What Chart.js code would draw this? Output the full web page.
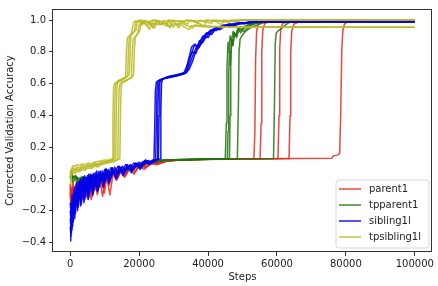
<!DOCTYPE html>
<html>
<head>
<meta charset="utf-8">
<script src="https://cdn.jsdelivr.net/npm/chart.js@4"></script>
<style>
	body { margin: 0; background: #fff; }
	canvas { display: block; }
</style>
</head>
<body>
<canvas id="canvas" width="438" height="286"></canvas>
<script>
var seriesNames = ['parent1', 'tpparent1', 'sibling1l', 'tpsibling1l'];
var seriesColors = ['rgba(228,40,30,0.85)', 'rgba(30,115,10,0.85)', 'rgba(0,0,235,0.9)', 'rgba(185,185,30,0.85)'];

var xTicks = [0, 20000, 40000, 60000, 80000, 100000];
var xTickLabels = ['0', '20000', '40000', '60000', '80000', '100000'];
var yTicks = [-0.4, -0.2, 0.0, 0.2, 0.4, 0.6, 0.8, 1.0];
var yTickLabels = ['\u22120.4', '\u22120.2', '0.0', '0.2', '0.4', '0.6', '0.8', '1.0'];

// each run: [step, corrected validation accuracy]
var parent1 = [
	[[0,-0.06],[300,-0.15],[700,-0.06],[1100,-0.13],[1600,-0.04],[2100,-0.11],[2700,-0.03],[3300,-0.1],[3900,-0.02],[4600,-0.09],[5300,0.0],[6000,-0.08],[6800,0.01],[7600,-0.06],[8400,0.03],[9300,-0.05],[10200,0.04],[11200,-0.02],[12200,0.05],[13300,0.02],[14500,0.07],[15700,0.04],[17000,0.08],[18400,0.06],[19800,0.09],[21300,0.08],[23000,0.105],[25000,0.1],[27000,0.115],[30000,0.12],[35000,0.123],[42000,0.125],[50000,0.127],[53300,0.128],[53600,0.3],[53800,0.75],[54100,0.93],[54600,0.98],[56000,0.99],[70000,0.995],[100000,0.995]],
	[[0,-0.03],[400,-0.1],[800,-0.02],[1300,-0.12],[1800,-0.05],[2400,-0.14],[3000,-0.04],[3600,-0.12],[4300,-0.03],[5000,-0.1],[5700,-0.01],[6500,-0.11],[7300,0.0],[8100,-0.07],[9000,0.02],[9900,-0.09],[10800,0.03],[11800,0.0],[12800,0.06],[13900,0.01],[15100,0.06],[16300,0.03],[17600,0.08],[19000,0.05],[20500,0.09],[22000,0.075],[23800,0.1],[26000,0.105],[28500,0.115],[32000,0.12],[38000,0.124],[46000,0.126],[55100,0.128],[55400,0.35],[55600,0.8],[55900,0.94],[56500,0.98],[58000,0.99],[100000,0.993]],
	[[0,-0.08],[300,-0.18],[700,-0.09],[1200,-0.15],[1700,-0.06],[2300,-0.13],[2900,-0.05],[3500,-0.11],[4200,-0.02],[4900,-0.12],[5600,-0.03],[6300,-0.09],[7100,0.0],[7900,-0.1],[8700,0.01],[9600,-0.06],[10500,0.03],[11500,-0.1],[12500,0.04],[13600,0.0],[14800,0.06],[16000,0.02],[17300,0.07],[18700,0.04],[20100,0.085],[21700,0.07],[23400,0.1],[25500,0.095],[28000,0.112],[31000,0.118],[37000,0.122],[45000,0.125],[55000,0.127],[60300,0.128],[60600,0.4],[60800,0.82],[61100,0.94],[61700,0.98],[63500,0.99],[100000,0.994]],
	[[0,-0.04],[350,-0.13],[750,-0.05],[1250,-0.11],[1750,-0.02],[2300,-0.09],[2900,-0.01],[3500,-0.08],[4100,0.01],[4800,-0.07],[5500,0.02],[6200,-0.05],[7000,0.03],[7800,-0.04],[8600,0.04],[9500,-0.02],[10400,0.05],[11400,0.01],[12400,0.06],[13500,0.03],[14700,0.075],[15900,0.05],[17200,0.085],[18600,0.065],[20000,0.095],[21600,0.085],[23300,0.105],[25200,0.1],[27500,0.115],[31000,0.12],[38000,0.123],[48000,0.126],[58000,0.127],[63500,0.128],[63800,0.4],[64000,0.8],[64300,0.93],[64900,0.975],[66500,0.99],[100000,0.995]],
	[[0,-0.1],[300,-0.2],[650,-0.1],[1100,-0.17],[1600,-0.07],[2100,-0.15],[2700,-0.06],[3300,-0.14],[3900,-0.04],[4600,-0.1],[5300,-0.02],[6100,-0.13],[6900,-0.01],[7700,-0.08],[8500,0.0],[9400,-0.11],[10300,0.02],[11300,-0.04],[12300,0.04],[13400,-0.01],[14600,0.05],[15800,0.01],[17100,0.07],[18500,0.03],[19900,0.08],[21500,0.06],[23200,0.095],[25300,0.09],[27700,0.11],[31000,0.117],[38000,0.122],[50000,0.126],[65000,0.128],[76000,0.13],[76300,0.145],[77500,0.15],[78200,0.16],[78500,0.4],[78800,0.8],[79100,0.93],[79600,0.975],[80500,0.99],[100000,0.995]]
];

var tpparent1 = [
	[[0,0.02],[300,0.04],[800,0.0],[1500,0.01],[2500,-0.01],[3500,0.005],[5000,0.0],[6500,0.015],[8000,0.01],[10000,0.03],[12000,0.035],[14000,0.05],[16000,0.06],[18000,0.075],[20000,0.09],[22000,0.1],[24000,0.11],[27000,0.118],[32000,0.122],[40000,0.125],[45000,0.127],[45300,0.35],[45500,0.7],[45800,0.86],[46100,0.8],[46400,0.9],[46800,0.87],[47300,0.93],[48000,0.9],[48800,0.95],[50000,0.94],[51500,0.97],[53500,0.98],[56000,0.99],[60000,0.995],[100000,0.997]],
	[[0,0.0],[300,0.03],[800,-0.02],[1500,0.0],[2500,-0.03],[3500,-0.01],[5000,0.005],[6500,0.0],[8000,0.02],[10000,0.02],[12000,0.04],[14000,0.045],[16000,0.065],[18000,0.07],[20000,0.085],[22000,0.095],[24000,0.108],[27000,0.116],[32000,0.121],[40000,0.124],[45600,0.126],[45800,0.3],[46000,0.65],[46200,0.8],[46500,0.72],[46800,0.88],[47200,0.84],[47700,0.92],[48300,0.89],[49000,0.94],[50500,0.93],[52000,0.965],[54000,0.98],[57000,0.99],[100000,0.996]],
	[[0,0.04],[300,0.05],[800,0.01],[1500,0.02],[2500,0.0],[3500,0.01],[5000,-0.005],[6500,0.01],[8000,0.005],[10000,0.025],[12000,0.03],[14000,0.05],[16000,0.055],[18000,0.07],[20000,0.08],[22000,0.095],[24000,0.105],[27000,0.115],[32000,0.12],[40000,0.124],[46200,0.126],[46400,0.4],[46600,0.75],[46900,0.88],[47200,0.84],[47600,0.92],[48100,0.9],[48700,0.945],[49500,0.92],[50500,0.96],[52500,0.975],[55000,0.985],[58000,0.99],[100000,0.996]],
	[[0,0.01],[300,0.035],[800,0.005],[1500,0.015],[2500,-0.02],[3500,0.0],[5000,0.01],[6500,0.005],[8000,0.015],[10000,0.03],[12000,0.04],[14000,0.05],[16000,0.06],[18000,0.07],[20000,0.088],[22000,0.098],[24000,0.11],[27000,0.117],[32000,0.121],[40000,0.124],[48500,0.127],[48800,0.45],[49000,0.8],[49300,0.88],[49800,0.9],[50500,0.92],[51500,0.94],[53000,0.96],[55000,0.975],[57000,0.99],[100000,0.996]],
	[[0,0.03],[300,0.045],[800,0.01],[1500,0.02],[2500,0.0],[3500,0.015],[5000,0.005],[6500,0.02],[8000,0.015],[10000,0.035],[12000,0.04],[14000,0.055],[16000,0.06],[18000,0.072],[20000,0.09],[22000,0.1],[24000,0.112],[27000,0.119],[32000,0.123],[40000,0.125],[50000,0.127],[59000,0.128],[59300,0.5],[59500,0.85],[59800,0.92],[60500,0.935],[61500,0.95],[62500,0.97],[64000,0.99],[100000,0.997]]
];

var sibling1l = [
	[[0,-0.39],[150,-0.3],[350,-0.34],[600,-0.2],[900,-0.27],[1200,-0.12],[1500,-0.22],[1900,-0.06],[2300,-0.18],[2700,-0.04],[3200,-0.16],[3700,-0.02],[4200,-0.13],[4800,0.0],[5400,-0.12],[6000,0.02],[6700,-0.09],[7400,0.03],[8100,-0.07],[8900,0.04],[9700,-0.05],[10500,0.05],[11400,-0.02],[12400,0.06],[13400,0.0],[14500,0.07],[15600,0.03],[16800,0.08],[18000,0.05],[19300,0.09],[20600,0.07],[22000,0.11],[23400,0.1],[24300,0.12],[24500,0.3],[24700,0.55],[25000,0.61],[26000,0.625],[28000,0.635],[30000,0.645],[32000,0.655],[33000,0.66],[34000,0.7],[35000,0.78],[36000,0.84],[37500,0.83],[39000,0.9],[40500,0.93],[42000,0.95],[44000,0.96],[46000,0.975],[48000,0.97],[50000,0.985],[52000,0.98],[54000,0.99],[100000,0.99]],
	[[0,-0.3],[200,-0.36],[450,-0.22],[700,-0.3],[1000,-0.15],[1300,-0.25],[1700,-0.08],[2100,-0.2],[2500,-0.05],[3000,-0.17],[3500,-0.03],[4000,-0.15],[4600,-0.01],[5200,-0.13],[5800,0.03],[6500,-0.1],[7200,0.02],[7900,-0.08],[8700,0.05],[9500,-0.04],[10300,0.06],[11200,-0.03],[12100,0.07],[13100,0.01],[14200,0.08],[15300,0.02],[16500,0.085],[17700,0.04],[19000,0.1],[20300,0.06],[21700,0.115],[23100,0.09],[24800,0.12],[25000,0.35],[25200,0.57],[25500,0.615],[27000,0.63],[29000,0.64],[31000,0.65],[32500,0.66],[33500,0.68],[34500,0.75],[35500,0.8],[36500,0.79],[37500,0.86],[38500,0.9],[40000,0.89],[41500,0.94],[43500,0.955],[45500,0.97],[47500,0.965],[49500,0.98],[51500,0.985],[53500,0.99],[100000,0.99]],
	[[0,-0.25],[250,-0.32],[500,-0.18],[800,-0.26],[1100,-0.1],[1400,-0.21],[1800,-0.04],[2200,-0.16],[2600,-0.02],[3100,-0.14],[3600,0.0],[4100,-0.12],[4700,0.01],[5300,-0.1],[5900,0.02],[6600,-0.08],[7300,0.04],[8000,-0.06],[8800,0.03],[9600,-0.03],[10400,0.065],[11300,0.0],[12200,0.07],[13200,0.02],[14300,0.075],[15400,0.04],[16600,0.09],[17800,0.06],[19100,0.1],[20400,0.08],[21800,0.12],[23200,0.105],[25200,0.125],[25400,0.38],[25600,0.58],[25900,0.62],[27500,0.635],[29500,0.645],[31500,0.655],[33000,0.665],[34000,0.72],[35200,0.83],[36200,0.85],[37200,0.82],[38200,0.88],[39500,0.92],[41000,0.91],[42500,0.95],[44500,0.97],[46500,0.96],[48500,0.98],[50500,0.975],[52500,0.99],[100000,0.99]],
	[[0,-0.2],[250,-0.27],[550,-0.14],[850,-0.23],[1150,-0.07],[1500,-0.19],[1900,-0.03],[2300,-0.17],[2800,-0.01],[3300,-0.13],[3800,0.01],[4400,-0.11],[5000,0.02],[5600,-0.09],[6300,0.03],[7000,-0.07],[7700,0.05],[8500,-0.05],[9300,0.05],[10100,-0.02],[11000,0.06],[11900,0.01],[12900,0.075],[14000,0.03],[15100,0.08],[16200,0.05],[17400,0.09],[18600,0.07],[19900,0.105],[21200,0.09],[22600,0.115],[24000,0.105],[25600,0.125],[25800,0.4],[26000,0.6],[26300,0.625],[28000,0.64],[30000,0.65],[32000,0.66],[33500,0.665],[34500,0.69],[35500,0.74],[36500,0.81],[37500,0.87],[38500,0.86],[39500,0.91],[41000,0.94],[42500,0.935],[44000,0.96],[46000,0.975],[48000,0.97],[50000,0.98],[52000,0.99],[100000,0.99]],
	[[0,-0.15],[300,-0.24],[600,-0.1],[950,-0.2],[1300,-0.05],[1700,-0.15],[2100,-0.02],[2600,-0.12],[3100,0.0],[3600,-0.1],[4200,0.02],[4800,-0.08],[5400,0.03],[6100,-0.06],[6800,0.035],[7500,-0.04],[8300,0.045],[9100,-0.01],[10000,0.06],[10900,0.02],[11800,0.07],[12800,0.04],[13900,0.08],[15000,0.05],[16100,0.09],[17300,0.07],[18500,0.1],[19800,0.08],[21100,0.11],[22500,0.1],[24000,0.12],[26100,0.125],[26300,0.42],[26500,0.6],[26800,0.63],[28500,0.645],[30500,0.655],[32500,0.665],[33800,0.67],[34800,0.73],[35800,0.79],[36800,0.84],[38000,0.85],[39000,0.88],[40500,0.92],[42000,0.945],[43500,0.94],[45000,0.965],[47000,0.975],[49000,0.985],[51000,0.98],[53000,0.99],[100000,0.99]]
];

var tpsibling1l = [
	[[0,-0.04],[200,0.02],[500,0.04],[900,0.05],[1400,0.045],[2000,0.06],[2700,0.055],[3500,0.07],[4300,0.065],[5200,0.08],[6100,0.075],[7000,0.09],[8000,0.085],[9000,0.095],[10000,0.1],[11000,0.105],[11800,0.115],[12200,0.12],[12400,0.4],[12600,0.58],[12900,0.6],[14000,0.61],[15000,0.62],[15800,0.635],[16100,0.65],[16300,0.8],[16600,0.89],[17200,0.9],[17800,0.92],[18300,0.98],[18800,0.995],[20000,0.99],[21000,0.97],[21500,0.995],[23000,0.99],[24500,0.95],[25000,0.995],[27000,0.99],[29000,0.96],[29500,0.995],[32000,0.995],[34000,0.975],[34500,0.998],[38000,0.995],[41000,0.98],[41500,1.0],[45000,0.995],[48000,0.99],[50000,1.0],[100000,1.0]],
	[[0,0.0],[200,0.04],[500,0.06],[900,0.07],[1400,0.065],[2000,0.075],[2700,0.07],[3500,0.085],[4300,0.08],[5200,0.09],[6100,0.085],[7000,0.1],[8000,0.095],[9000,0.105],[10000,0.11],[11000,0.115],[12000,0.12],[12700,0.125],[12900,0.45],[13100,0.59],[13400,0.61],[14500,0.62],[15500,0.63],[16400,0.64],[16700,0.66],[16900,0.82],[17200,0.9],[18000,0.91],[18600,0.93],[19000,0.985],[19600,0.998],[21000,0.99],[22500,0.96],[23000,0.995],[25000,0.998],[26500,0.97],[27000,0.998],[30000,0.99],[31500,0.95],[32000,0.995],[35000,0.998],[37000,0.98],[37500,0.998],[42000,0.995],[44000,0.97],[44500,1.0],[47000,0.995],[50000,1.0],[100000,1.0]],
	[[0,0.03],[200,0.05],[500,0.07],[900,0.085],[1400,0.08],[2000,0.09],[2700,0.085],[3500,0.095],[4300,0.09],[5200,0.1],[6100,0.095],[7000,0.105],[8000,0.11],[9000,0.115],[10000,0.12],[11000,0.118],[12000,0.125],[13200,0.13],[13400,0.45],[13600,0.6],[13900,0.62],[15000,0.63],[16000,0.64],[16900,0.65],[17200,0.67],[17400,0.84],[17700,0.91],[18500,0.925],[19100,0.94],[19500,0.99],[20200,1.0],[22000,0.995],[23500,0.97],[24000,1.0],[26000,0.995],[28000,0.96],[28500,1.0],[31000,0.995],[33000,0.985],[33500,1.0],[36000,0.995],[39000,0.96],[39500,1.0],[43000,0.995],[46000,0.985],[46500,1.0],[100000,1.0]],
	[[0,-0.02],[200,0.01],[500,0.03],[900,0.04],[1400,0.035],[2000,0.05],[2700,0.045],[3500,0.06],[4300,0.055],[5200,0.07],[6100,0.065],[7000,0.08],[8000,0.075],[9000,0.09],[10000,0.095],[11000,0.1],[12000,0.105],[13000,0.11],[13800,0.12],[14000,0.42],[14200,0.57],[14500,0.6],[15500,0.61],[16500,0.62],[17500,0.635],[17800,0.65],[18000,0.8],[18300,0.88],[19000,0.9],[19600,0.92],[20000,0.97],[20600,0.985],[22000,0.975],[23000,0.94],[23500,0.98],[25500,0.97],[27500,0.985],[29000,0.95],[29500,0.975],[32000,0.97],[34500,0.94],[35000,0.965],[38000,0.96],[40500,0.955],[43000,0.96],[47000,0.955],[50000,0.955],[100000,0.955]],
	[[0,0.01],[200,0.03],[500,0.05],[900,0.06],[1400,0.055],[2000,0.065],[2700,0.06],[3500,0.075],[4300,0.07],[5200,0.085],[6100,0.08],[7000,0.09],[8000,0.09],[9000,0.1],[10000,0.105],[11000,0.11],[12000,0.112],[13000,0.118],[14400,0.125],[14600,0.44],[14800,0.58],[15100,0.61],[16000,0.62],[17000,0.63],[18100,0.645],[18400,0.66],[18600,0.81],[18900,0.89],[19500,0.91],[20100,0.93],[20500,0.975],[21100,0.99],[23000,0.98],[24000,0.95],[24500,0.985],[26500,0.975],[28500,0.99],[30000,0.955],[30500,0.98],[33000,0.975],[35500,0.95],[36000,0.97],[39000,0.965],[42000,0.96],[45000,0.955],[48000,0.958],[100000,0.955]]
];

var allSeries = [parent1, tpparent1, sibling1l, tpsibling1l];
var datasets = [];
allSeries.forEach(function(runs, s){
	runs.forEach(function(run){
		datasets.push({
			label: seriesNames[s],
			data: run.map(function(p){ return {x: p[0], y: p[1]}; }),
			borderColor: seriesColors[s],
			borderWidth: 1.5,
			borderJoinStyle: 'round',
			pointRadius: 0,
			fill: false,
			tension: 0,
			order: 3 - s   // later series drawn on top, like matplotlib
		});
	});
});

// box round the plot (matplotlib spines)
var framePlugin = {
	id: 'frame',
	afterDatasetsDraw: function(chart){
		var a = chart.chartArea, c = chart.ctx;
		c.save();
		c.strokeStyle = '#333';
		c.lineWidth = 1;
		c.strokeRect(Math.round(a.left) - 0.5, Math.round(a.top) + 0.5, Math.round(a.right - a.left), Math.round(a.bottom - a.top) - 1);
		c.restore();
	}
};

// legend box inside the plot, lower right
var legendPlugin = {
	id: 'boxLegend',
	afterDraw: function(chart){
		var c = chart.ctx;
		var x = 336, y = 180, w = 93, h = 68, r = 3;
		c.save();
		c.beginPath();
		c.moveTo(x + r, y);
		c.arcTo(x + w, y, x + w, y + h, r);
		c.arcTo(x + w, y + h, x, y + h, r);
		c.arcTo(x, y + h, x, y, r);
		c.arcTo(x, y, x + w, y, r);
		c.closePath();
		c.fillStyle = 'rgba(255,255,255,0.8)';
		c.fill();
		c.strokeStyle = '#d6d6d6';
		c.lineWidth = 1;
		c.stroke();
		c.font = '10px "DejaVu Sans"';
		c.textBaseline = 'middle';
		c.fillStyle = '#222';
		for (var i = 0; i < seriesNames.length; i++) {
			var ly = 189 + i * 16;
			c.beginPath();
			c.moveTo(339, ly);
			c.lineTo(361, ly);
			c.strokeStyle = seriesColors[i];
			c.lineWidth = 1.5;
			c.stroke();
			c.fillText(seriesNames[i], 369, ly);
		}
		c.restore();
	}
};

Chart.defaults.font.family = '"DejaVu Sans", sans-serif';
Chart.defaults.font.size = 10;
Chart.defaults.color = '#222';

var ctx = document.getElementById('canvas').getContext('2d');
var chart = new Chart(ctx, {
	type: 'line',
	data: { datasets: datasets },
	options: {
		responsive: false,
		animation: false,
		events: [],
		layout: { padding: { left: 0, top: 4, right: 6, bottom: 0 } },
		plugins: {
			legend: { display: false },
			tooltip: { enabled: false }
		},
		scales: {
			x: {
				type: 'linear',
				min: -5000,
				max: 105000,
				afterBuildTicks: function(scale){
					scale.ticks = xTicks.map(function(v){ return {value: v}; });
				},
				afterFit: function(scale){ scale.height = 34; },
				ticks: {
					autoSkip: false,
					maxRotation: 0,
					padding: 2,
					callback: function(v, i){ return xTickLabels[i]; }
				},
				grid: { drawOnChartArea: false, drawTicks: true, tickLength: 4, tickColor: '#333' },
				border: { display: false },
				title: { display: true, text: 'Steps', padding: { top: 0, bottom: 3 } }
			},
			y: {
				type: 'linear',
				min: -0.46,
				max: 1.07,
				afterBuildTicks: function(scale){
					scale.ticks = yTicks.map(function(v){ return {value: v}; });
				},
				afterFit: function(scale){ scale.width = 53; },
				ticks: {
					autoSkip: false,
					padding: 3,
					callback: function(v, i){ return yTickLabels[i]; }
				},
				grid: { drawOnChartArea: false, drawTicks: true, tickLength: 4, tickColor: '#333' },
				border: { display: false },
				title: { display: true, text: 'Corrected Validation Accuracy', padding: { top: 4, bottom: 0 } }
			}
		}
	},
	plugins: [framePlugin, legendPlugin]
});
</script>
</body>
</html>
